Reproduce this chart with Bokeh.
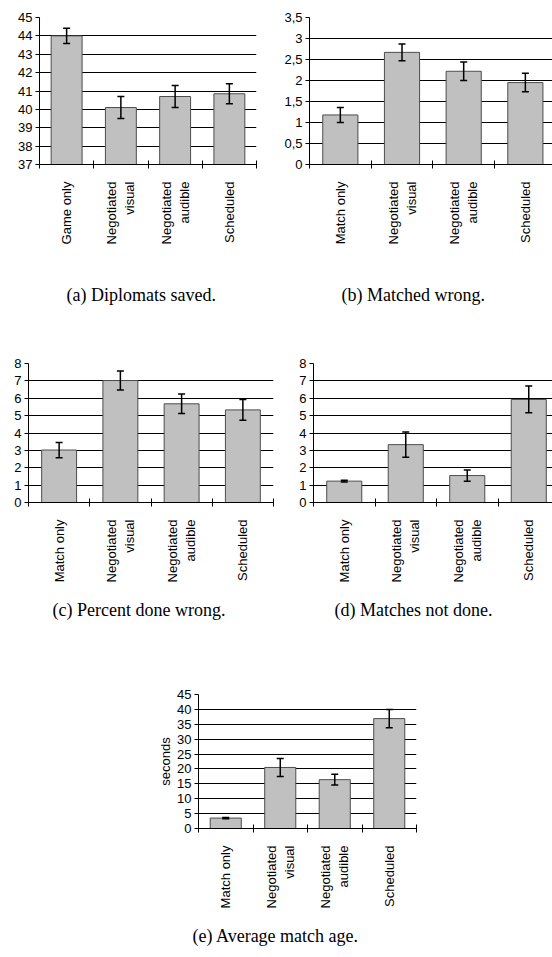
import math
import numpy as np
from bokeh.plotting import figure
from bokeh.models import (Range1d, FixedTicker, ColumnDataSource, Whisker, TeeHead,
                          Title, Grid, CustomJSTickFormatter)
from bokeh.layouts import column, row
from bokeh.embed import file_html
from bokeh.resources import INLINE

# ---------------- data ----------------
cats_a = ["Game only", "Negotiated\nvisual", "Negotiated\naudible", "Scheduled"]
cats_m = ["Match only", "Negotiated\nvisual", "Negotiated\naudible", "Scheduled"]

a_vals = [44.0, 40.1, 40.7, 40.85]
a_err = [0.42, 0.6, 0.6, 0.55]
a_ticks = [37, 38, 39, 40, 41, 42, 43, 44, 45]
a_labels = ["37", "38", "39", "40", "41", "42", "43", "44", "45"]

b_vals = [1.18, 2.67, 2.22, 1.95]
b_err = [0.18, 0.2, 0.22, 0.22]
b_ticks = [0, 0.5, 1, 1.5, 2, 2.5, 3, 3.5]
b_labels = ["0", "0,5", "1", "1,5", "2", "2,5", "3", "3,5"]

c_vals = [3.02, 7.02, 5.68, 5.33]
c_err = [0.44, 0.55, 0.56, 0.6]
cd_ticks = [0, 1, 2, 3, 4, 5, 6, 7, 8]
cd_labels = ["0", "1", "2", "3", "4", "5", "6", "7", "8"]

d_vals = [1.23, 3.33, 1.55, 5.93]
d_err = [0.05, 0.73, 0.32, 0.77]

e_vals = [3.5, 20.5, 16.4, 36.9]
e_err = [0.2, 3.0, 1.8, 3.1]
e_ticks = [0, 5, 10, 15, 20, 25, 30, 35, 40, 45]
e_labels = ["0", "5", "10", "15", "20", "25", "30", "35", "40", "45"]

captions = ["(a) Diplomats saved.", "(b) Matched wrong.", "(c) Percent done wrong.",
            "(d) Matches not done.", "(e) Average match age."]

SANS = "Liberation Sans"
SERIF = "Liberation Serif"
LOOKUP = ("const i = tks.findIndex(t => Math.abs(t - tick) < 1e-9);"
          "return i >= 0 ? labs[i] : '';")


def panel(cats, vals, errs, yticks, ylabels, caption, width, height,
          bl, br, bt, bb, x_end, cap_offset, cap_standoff, ylabel=None):
    n = len(cats)
    x = np.arange(n) + 0.5
    vals = np.asarray(vals, dtype=float)
    errs = np.asarray(errs, dtype=float)
    y0, y1 = yticks[0], yticks[-1]
    p = figure(width=width, height=height, output_backend="svg", toolbar_location=None,
               x_range=Range1d(0, x_end), y_range=Range1d(y0, y1),
               min_border_left=bl, min_border_right=br, min_border_top=bt,
               min_border_bottom=bb, outline_line_color=None,
               background_fill_color="white", border_fill_color="white")
    src = ColumnDataSource(dict(x=x, top=vals, upper=vals + errs, lower=vals - errs))
    p.vbar(x="x", top="top", bottom=y0, width=0.57, source=src,
           fill_color="#c0c0c0", line_color="#4d4d4d", line_width=1)
    w = Whisker(source=src, base="x", upper="upper", lower="lower", dimension="height",
                line_color="black", line_width=1.5, level="overlay",
                upper_head=TeeHead(size=7, line_color="black", line_width=1.5),
                lower_head=TeeHead(size=7, line_color="black", line_width=1.5))
    p.add_layout(w)

    # grid
    p.xgrid.visible = False
    p.ygrid.ticker = FixedTicker(ticks=yticks[:-1])
    p.ygrid.grid_line_color = "black"
    p.ygrid.grid_line_width = 1
    p.add_layout(Grid(dimension=1, ticker=FixedTicker(ticks=[y1]),
                      grid_line_color="#9a9a9a", grid_line_width=1))

    # x axis
    xa = p.xaxis[0]
    xa.ticker = FixedTicker(ticks=list(x), minor_ticks=list(range(n + 1)))
    xa.formatter = CustomJSTickFormatter(args=dict(tks=list(x), labs=cats), code=LOOKUP)
    xa.major_tick_in = 0
    xa.major_tick_out = 0
    xa.minor_tick_in = 4
    xa.minor_tick_out = 4
    xa.minor_tick_line_color = "black"
    xa.axis_line_color = "black"
    xa.major_label_orientation = math.pi / 2
    xa.major_label_standoff = 13
    xa.major_label_text_font = SANS
    xa.major_label_text_font_size = "13px"
    xa.major_label_text_color = "black"

    # y axis
    ya = p.yaxis[0]
    ya.ticker = FixedTicker(ticks=yticks, minor_ticks=[])
    ya.formatter = CustomJSTickFormatter(args=dict(tks=yticks, labs=ylabels), code=LOOKUP)
    ya.major_tick_in = 0
    ya.major_tick_out = 4
    ya.major_tick_line_color = "black"
    ya.axis_line_color = "black"
    ya.major_label_standoff = 3
    ya.major_label_text_font = SANS
    ya.major_label_text_font_size = "13px"
    ya.major_label_text_color = "black"
    if ylabel:
        ya.axis_label = ylabel
        ya.axis_label_text_font = SANS
        ya.axis_label_text_font_size = "13px"
        ya.axis_label_text_font_style = "normal"
        ya.axis_label_text_color = "black"
        ya.axis_label_standoff = 1

    t = Title(text=caption, align="left", offset=cap_offset, standoff=cap_standoff,
              text_font=SERIF, text_font_size="18px", text_font_style="normal",
              text_color="black")
    p.add_layout(t, "below")
    return p


pa = panel(cats_a, a_vals, a_err, a_ticks, a_labels, captions[0], 278, 354,
           39, 22, 17, 190, 4, 27, 70)
pb = panel(cats_m, b_vals, b_err, b_ticks, b_labels, captions[1], 274, 354,
           31, 0, 17, 190, 3.94, 32, 70)
pc = panel(cats_m, c_vals, c_err, cd_ticks, cd_labels, captions[2], 278, 331,
           28, 5, 9, 183, 4, 24, 24)
pd = panel(cats_m, d_vals, d_err, cd_ticks, cd_labels, captions[3], 274, 331,
           35, 0, 9, 183, 3.886, 21, 24)
pe = panel(cats_m, e_vals, e_err, e_ticks, e_labels, captions[4], 552, 272,
           198, 136, 9, 121, 4, -6, 24, ylabel="seconds")

layout = column(row(pa, pb, spacing=0), row(pc, pd, spacing=0), pe, spacing=0)
open("out.html", "w").write(file_html(layout, INLINE))
